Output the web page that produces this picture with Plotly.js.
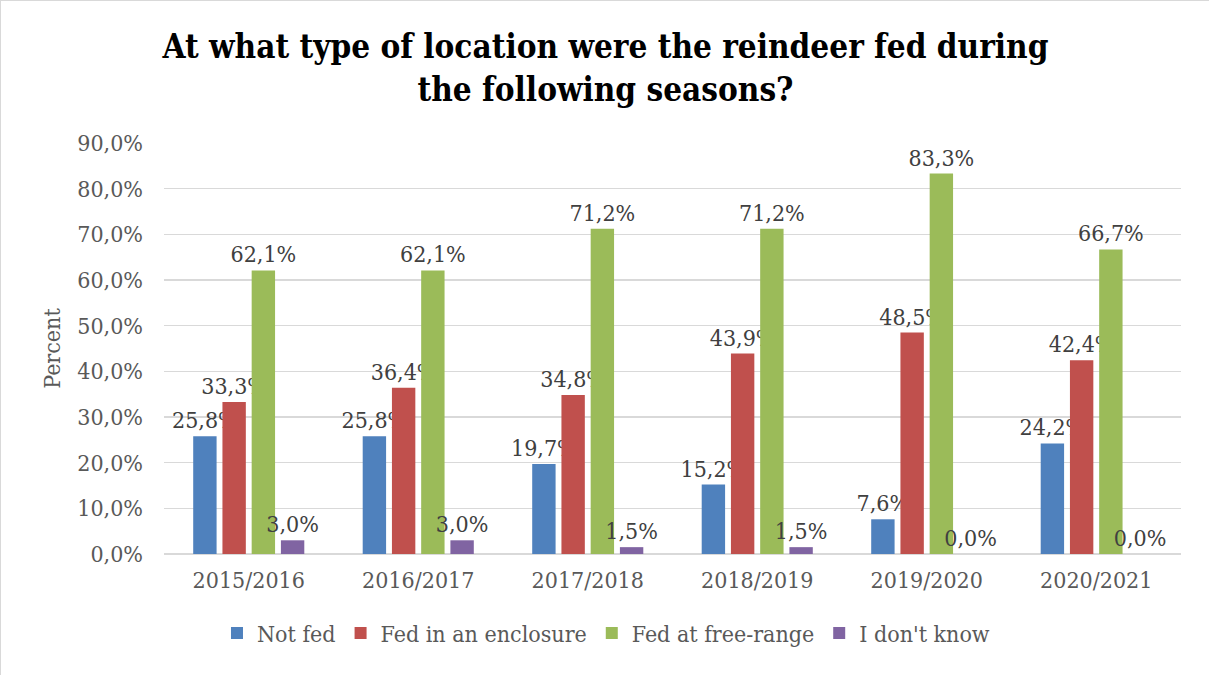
<!DOCTYPE html>
<html>
<head>
<meta charset="utf-8">
<script src="https://cdn.plot.ly/plotly-3.0.1.min.js"></script>
<style>
html,body{margin:0;padding:0;background:#fff;}
#chart{width:1209px;height:675px;box-sizing:border-box;border:1.5px solid #d9d9d9;}
</style>
</head>
<body>
<div id="chart"></div>
<script>
const seasons = ["2015/2016","2016/2017","2017/2018","2018/2019","2019/2020","2020/2021"];
const seriesNames = ["Not fed","Fed in an enclosure","Fed at free-range","I don't know"];
const notFed = [25.8, 25.8, 19.7, 15.2, 7.6, 24.2];
const enclosure = [33.3, 36.4, 34.8, 43.9, 48.5, 42.4];
const freeRange = [62.1, 62.1, 71.2, 71.2, 83.3, 66.7];
const dontKnow = [3.0, 3.0, 1.5, 1.5, 0.0, 0.0];
const colors = ["#4F81BD","#C0504D","#9BBB59","#8064A2"];
const yTickVals = [0,10,20,30,40,50,60,70,80,90];

const FONT = "DejaVu Serif Condensed, DejaVu Serif, serif";
const allValues = [notFed, enclosure, freeRange, dontKnow];

const traces = allValues.map((vals, i) => ({
  type: "bar",
  name: seriesNames[i],
  x: seasons,
  y: vals,
  marker: {color: colors[i]},
  text: vals.map(v => v.toFixed(1).replace(".", ",") + "%"),
  texttemplate: "%{text}",
  textposition: "outside",
  constraintext: "none",
  textfont: {family: FONT, size: 23, color: "#404040"},
  cliponaxis: false,
  hoverinfo: "none"
}));

const layout = {
  width: 1209,
  height: 675,
  paper_bgcolor: "#ffffff",
  plot_bgcolor: "#ffffff",
  margin: {l: 163, r: 29, t: 142, b: 122, autoexpand: false},
  separators: ", ",
  barmode: "group",
  bargap: 0.31,
  bargroupgap: 0.2,
  title: {
    text: "At what type of location were the reindeer fed during<br>the following seasons?",
    font: {family: FONT, size: 33, color: "#000000", weight: "bold"},
    x: 0.5, xanchor: "center", xref: "container",
    y: 0.915, yanchor: "top", yref: "container"
  },
  xaxis: {
    type: "category",
    tickfont: {family: FONT, size: 23, color: "#595959"},
    tickangle: 0,
    showgrid: false,
    showline: false,
    zeroline: false,
    ticks: "",
    ticklabelstandoff: 10
  },
  yaxis: {
    range: [0, 90],
    tickvals: yTickVals,
    ticktext: yTickVals.map(v => v.toFixed(1).replace(".", ",") + "%"),
    tickfont: {family: FONT, size: 23, color: "#595959"},
    gridcolor: "#d9d9d9",
    gridwidth: 1.5,
    zeroline: true,
    zerolinecolor: "#d9d9d9",
    zerolinewidth: 1.5,
    showline: false,
    ticks: "",
    ticklabelstandoff: 20,
    title: {text: "Percent", font: {family: FONT, size: 23, color: "#595959"}, standoff: 10}
  },
  showlegend: true,
  legend: {
    orientation: "h",
    x: 0.4346, xanchor: "center",
    y: -0.14, yanchor: "top",
    font: {family: FONT, size: 23, color: "#595959"},
    itemwidth: 30,
    traceorder: "normal"
  }
};

Plotly.newPlot("chart", traces, layout, {displayModeBar: false, staticPlot: true});
</script>
</body>
</html>
